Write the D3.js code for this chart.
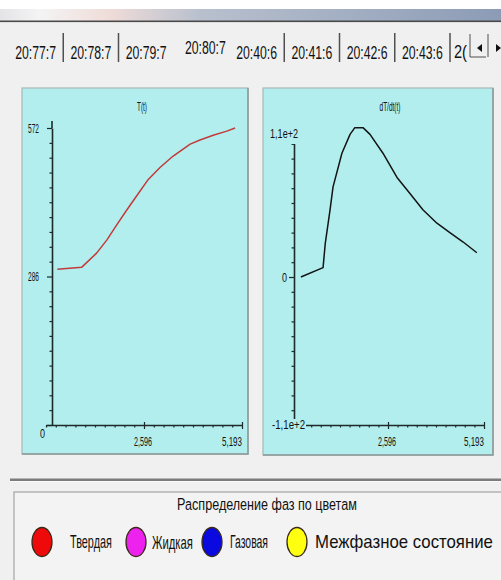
<!DOCTYPE html>
<html>
<head>
<meta charset="utf-8">
<script src="https://cdn.jsdelivr.net/npm/d3@7"></script>
<style>
  html, body { margin: 0; padding: 0; background: #f0f0f0; overflow: hidden; }
</style>
</head>
<body>
<script>
// tabs of the experiment list
const tabLabels = ['20:77:7', '20:78:7', '20:79:7', '20:80:7', '20:40:6', '20:41:6', '20:42:6', '20:43:6', '2(']
const activeTab = '20:80:7'

// T(t) curve
const tempTime = [0.30, 0.95, 1.34, 1.61, 1.87, 2.14, 2.40, 2.71, 3.02, 3.37, 3.82, 4.08, 4.43, 4.79, 5.01]
const tempValues = [300, 304, 331, 356, 385, 414, 441, 473, 496, 518, 541, 549, 558, 566, 572]

// dT/dt(t) curve
const rateTime = [0.24, 0.84, 0.90, 1.03, 1.11, 1.35, 1.57, 1.70, 1.92, 2.11, 2.46, 2.84, 3.19, 3.54, 3.92, 4.27, 4.63, 5.00]
const rateValues = [0, 7, 25, 50, 67, 92, 106, 111, 111, 106, 92, 74, 62, 50, 40, 33, 26, 18]

const timeMax = 5.193
const timeTickLabels = ['2,596', '5,193']
const tempTickLabels = ['0', '286', '572']
const rateTickLabels = ['-1,1e+2', '0', '1,1e+2']

const legendTitle = 'Распределение фаз по цветам'
const phaseNames = ['Твердая', 'Жидкая', 'Газовая', 'Межфазное состояние']
const phaseColors = ['#ee0a0a', '#ee22ee', '#0a0ae0', '#ffff10']

const W = 501
const H = 580
const panelFill = '#b2eeee'
const axisColor = '#1c2a2a'
const font = '"Liberation Sans Narrow", "Liberation Sans", Arial, sans-serif'

const svg = d3.select('body').append('svg')
  .attr('width', W)
  .attr('height', H)
  .attr('font-family', font)

// squeezed text, the screenshot is narrow: scale each text to its width
function label (g, text, x, y, size, len, anchor = 'middle') {
  const t = g.append('text')
    .text(text)
    .attr('font-size', size)
    .attr('fill', '#111')
    .attr('text-anchor', anchor)
    .attr('dominant-baseline', 'central')
  const natural = t.node().getComputedTextLength() || len
  const sx = len ? len / natural : 1
  t.attr('transform', `translate(${x},${y}) scale(${sx},1)`)
  return t
}

// window title bar
const grad = svg.append('defs').append('linearGradient').attr('id', 'bar')
;[[0, '#e4e4e8'], [0.08, '#f4f4f4'], [0.22, '#efdcd8'], [0.4, '#b8c0ce'], [1, '#8c9cb6']]
  .forEach(s => grad.append('stop').attr('offset', s[0]).attr('stop-color', s[1]))
svg.append('rect').attr('width', W).attr('height', 9).attr('fill', '#fff')
svg.append('rect').attr('y', 9).attr('width', W).attr('height', 12).attr('fill', 'url(#bar)')
svg.append('rect').attr('y', 20.5).attr('width', W).attr('height', 1.6).attr('fill', '#4a4a4a')

// tab strip
const tabs = svg.append('g')
const tabX = d3.scaleBand().domain(tabLabels.slice(0, 8)).range([8, 450]).padding(0)
tabLabels.slice(0, 8).forEach(d => {
  const cx = tabX(d) + tabX.bandwidth() / 2
  const active = d === activeTab
  label(tabs, d, cx + (active ? 4 : 0), active ? 47 : 52, 19, 41)
  if (d !== '20:79:7' && d !== activeTab) {
    tabs.append('line')
      .attr('x1', tabX(d) + tabX.bandwidth()).attr('x2', tabX(d) + tabX.bandwidth())
      .attr('y1', 33).attr('y2', 62)
      .attr('stroke', '#505050').attr('stroke-width', 1.5)
  }
})
label(tabs, tabLabels[8], 454, 52, 19, 13, 'start')
tabs.append('rect').attr('x', 470).attr('y', 34).attr('width', 32).attr('height', 23)
  .attr('fill', '#f0f0f0')
tabs.append('line').attr('x1', 470).attr('x2', 486).attr('y1', 57).attr('y2', 57).attr('stroke', '#505050')
tabs.append('line').attr('x1', 470).attr('x2', 470).attr('y1', 34).attr('y2', 57).attr('stroke', '#505050')
tabs.append('line').attr('x1', 488).attr('x2', 488).attr('y1', 34).attr('y2', 57).attr('stroke', '#505050')
tabs.append('path').attr('d', 'M477,48L482,44L482,52Z').attr('fill', '#111')
tabs.append('path').attr('d', 'M496,44L501,48L496,52Z').attr('fill', '#111')

function drawChart (cfg) {
  const g = svg.append('g')
  const [x0, y0, x1, y1] = cfg.box
  g.append('rect')
    .attr('x', x0).attr('y', y0).attr('width', x1 - x0).attr('height', y1 - y0)
    .attr('fill', panelFill).attr('stroke', '#a8b8b8').attr('stroke-width', 1.2)
  g.append('path')
    .attr('d', `M${x0},${y1}H${x1}V${y0}`)
    .attr('fill', 'none').attr('stroke', '#8c9898').attr('stroke-width', 1.5)

  const x = d3.scaleLinear().domain([0, timeMax]).range(cfg.xRange)
  const y = d3.scaleLinear().domain(cfg.yDomain).range(cfg.yRange)

  label(g, cfg.title, cfg.titleX, 107, 12, cfg.titleLen)

  const xTicks = d3.range(21).map(i => timeMax * i / 20)
  const xMajor = [10, 20]
  g.append('g')
    .attr('transform', `translate(0,${y(cfg.yDomain[0])})`)
    .call(d3.axisBottom(x).tickValues(xTicks).tickSize(3).tickSizeOuter(0).tickFormat(''))
    .call(a => a.select('.domain').attr('stroke', axisColor).attr('stroke-width', 1.6))
    .call(a => a.selectAll('.tick line')
      .attr('stroke', axisColor).attr('stroke-width', 1.2)
      .attr('y1', (d, i) => xMajor.includes(i) ? -3 : 0)
      .attr('y2', (d, i) => xMajor.includes(i) ? 4 : 2.5))

  const [ya, yb] = cfg.yDomain
  const yTicks = d3.range(21).map(i => ya + (yb - ya) * i / 20)
  const yMajor = [0, 10, 20]
  g.append('g')
    .attr('transform', `translate(${cfg.yAxisX},0)`)
    .call(d3.axisLeft(y).tickValues(yTicks).tickSize(2.5).tickSizeOuter(0).tickFormat(''))
    .call(a => a.select('.domain').attr('stroke', axisColor).attr('stroke-width', 1.6))
    .call(a => a.selectAll('.tick line')
      .attr('stroke', axisColor).attr('stroke-width', 1.2)
      .attr('x2', (d, i) => yMajor.includes(i) ? -5 : -2.5))
  g.append('line')
    .attr('x1', cfg.yAxisX).attr('x2', cfg.yAxisX)
    .attr('y1', y(yb)).attr('y2', y(yb) - cfg.axisOver)
    .attr('stroke', axisColor).attr('stroke-width', 1.6)

  // x tick labels
  label(g, timeTickLabels[0], x(xTicks[10]) - 1, 442, 12.5, 18)
  label(g, timeTickLabels[1], x(xTicks[20]), 442, 12.5, 20, 'end')

  // y tick labels
  cfg.yLabels.forEach((l, i) => {
    const pos = cfg.yLabelPos[i]
    if (l.bg) {
      g.append('rect').attr('x', pos[0] - l.len - 1).attr('y', pos[1] - l.bg / 2)
        .attr('width', l.len + 2).attr('height', l.bg).attr('fill', panelFill)
    }
    label(g, l.text, pos[0], pos[1], 12.5, l.len, 'end')
  })

  const line = d3.line()
    .x(d => x(d[0]))
    .y(d => y(d[1]))
  g.append('path')
    .datum(d3.zip(cfg.time, cfg.values))
    .attr('d', line)
    .attr('fill', 'none')
    .attr('stroke', cfg.color)
    .attr('stroke-width', 1.5)
    .attr('stroke-linejoin', 'round')
}

drawChart({
  box: [22, 88, 248, 454],
  xRange: [46, 242],
  yAxisX: 52,
  yDomain: [0, 572],
  yRange: [425, 128],
  axisOver: 7,
  title: 'T(t)',
  titleX: 142,
  titleLen: 10,
  yLabels: [
    { text: tempTickLabels[0], len: 5 },
    { text: tempTickLabels[1], len: 11 },
    { text: tempTickLabels[2], len: 11 }
  ],
  yLabelPos: [[45, 433], [39, 277], [39, 129]],
  time: tempTime,
  values: tempValues,
  color: '#c23a3a'
})

drawChart({
  box: [263, 88, 493, 455],
  xRange: [292, 484],
  yAxisX: 294,
  yDomain: [-110, 110],
  yRange: [425, 129],
  axisOver: 0,
  title: 'dT/dt(t)',
  titleX: 390,
  titleLen: 21,
  yLabels: [
    { text: rateTickLabels[0], len: 33, bg: 12 },
    { text: rateTickLabels[1], len: 5 },
    { text: rateTickLabels[2], len: 28, bg: 22 }
  ],
  yLabelPos: [[305, 425], [287, 277], [298, 133]],
  time: rateTime,
  values: rateValues,
  color: '#141414'
})

// separator above the legend
svg.append('rect').attr('x', 10).attr('y', 478.5).attr('width', W - 10).attr('height', 2.5).attr('fill', '#7c7c7c')
svg.append('rect').attr('x', 10).attr('y', 481).attr('width', W - 10).attr('height', 1).attr('fill', '#fafafa')

// legend
const legend = svg.append('g')
legend.append('rect')
  .attr('x', 14).attr('y', 492).attr('width', W).attr('height', 120)
  .attr('fill', '#f3f3f3').attr('stroke', '#a4a4a4').attr('stroke-width', 1.2)
label(legend, legendTitle, 267, 504, 17, 180)

const dotX = [42, 136, 212, 297]
const textX = [70, 152, 230, 315]
const textLen = [42, 41, 38, 178]
phaseNames.forEach((d, i) => {
  legend.append('ellipse')
    .attr('cx', dotX[i]).attr('cy', 542).attr('rx', 10).attr('ry', 14.5)
    .attr('fill', phaseColors[i]).attr('stroke', '#3a2a1a').attr('stroke-width', 1.3)
  label(legend, d, textX[i], 542, 18, textLen[i], 'start')
})
</script>
</body>
</html>
